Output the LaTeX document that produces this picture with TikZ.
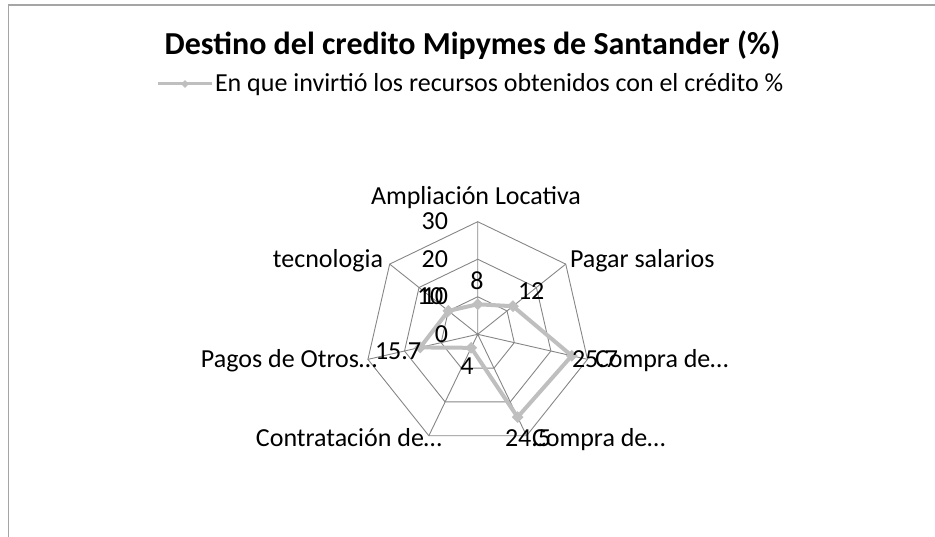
\documentclass[tikz,border=0pt]{standalone}
\usepackage{fontspec}
\setmainfont{Carlito}
\usepackage{tikz}
\usetikzlibrary{shapes.geometric,positioning}
\definecolor{gridgray}{RGB}{134,134,134}
\definecolor{seriesgray}{RGB}{191,191,191}
\definecolor{framegray}{RGB}{165,165,165}

\begin{document}
\begin{tikzpicture}[x=1pt,y=1pt,
    lbl/.style={font=\fontsize{26}{30}\selectfont, inner sep=0, outer sep=0},
    ring/.style={draw=gridgray, line width=0.9pt, regular polygon,
        regular polygon sides=7, inner sep=0, outer sep=0},
    axisline/.style={draw=gridgray, line width=0.9pt},
    pointmark/.style={diamond, fill=seriesgray, inner sep=0, minimum size=12pt},
    series/.style={draw=seriesgray, line width=4pt, line join=round}]

\useasboundingbox (0,0) rectangle (935,536);

% Chart frame
\draw[framegray, line width=1.5pt] (8.5,-5) -- (8.5,531) -- (940,531);

% Title
\node[font=\bfseries\fontsize{32}{36}\selectfont,
    anchor=base,
    inner sep=0
] (title) at (472.5,481) {Destino del credito Mipymes de Santander (\%)};

% Legend
\node[lbl,
    anchor=base west
] (legtext) at (215,444) {En que invirtió los recursos obtenidos con el crédito \%};
\coordinate (legstart) at (158,452);
\draw[series, line width=3pt] (legstart) -- ([xshift=-3pt]legtext.west |- legstart)
    node[midway, pointmark, minimum size=9pt]{};

% Grid rings
\coordinate (c) at (477.7,201.7);
\node[ring, minimum size=75.07pt] (r10) at (c) {};
\node[ring, minimum size=150.13pt] (r20) at (c) {};
\node[ring, minimum size=225.2pt] (r30) at (c) {};

% Spokes
\draw[axisline]
    (c) -- (r30.corner 1)
    (c) -- (r30.corner 2)
    (c) -- (r30.corner 3)
    (c) -- (r30.corner 4)
    (c) -- (r30.corner 5)
    (c) -- (r30.corner 6)
    (c) -- (r30.corner 7);

% Data points
\node[pointmark] (pAmp) at ([shift={(90:30.03)}]c) {};
\node[pointmark] (pPag) at ([shift={(38.571:45.04)}]c) {};
\node[pointmark] (pComA) at ([shift={(-12.857:96.46)}]c) {};
\node[pointmark] (pComB) at ([shift={(-64.286:91.96)}]c) {};
\node[pointmark] (pCon) at ([shift={(-115.714:15.01)}]c) {};
\node[pointmark] (pOtr) at ([shift={(-167.143:58.93)}]c) {};
\node[pointmark] (pTec) at ([shift={(141.429:37.53)}]c) {};

% Series line
\draw[series] (pAmp.center) -- (pPag.center) -- (pComA.center) -- (pComB.center)
    -- (pCon.center) -- (pOtr.center) -- (pTec.center) -- cycle;

% Category labels
\node[lbl, anchor=base] (cAmp) at (476,331) {Ampliación Locativa};
\node[lbl, anchor=base west] (cPag) at (570,268) {Pagar salarios};
\node[lbl, anchor=base west] (cComA) at (595,168) {Compra de…};
\node[lbl, anchor=base west] (cComB) at (532,89) {Compra de…};
\node[lbl, anchor=base east] (cCon) at (442,89) {Contratación de…};
\node[lbl, anchor=base east] (cOtr) at (377,168) {Pagos de Otros…};
\node[lbl, anchor=base east] (cTec) at (383,268) {tecnologia};

% Axis values
\node[lbl, anchor=base east] (t30) at (448,306) {30};
\node[lbl, anchor=base east] (t20) at (448,268) {20};
\node[lbl, anchor=base east] (t10) at (448,231) {10};
\node[lbl, anchor=base east] (t0) at (448,193) {0};

% Data labels
\node[lbl, anchor=base] (vAmp) at (477,246) {8};
\node[lbl, anchor=base west] (vPag) at (518,236) {12};
\node[lbl, anchor=base west] (vComA) at (572,168) {25.7};
\node[lbl, anchor=base west] (vComB) at (505,89) {24.5};
\node[lbl, anchor=base] (vCon) at (467,161) {4};
\node[lbl, anchor=base west] (vOtr) at (375,176) {15.7};
\node[lbl, anchor=base west] (vTec) at (417,231) {10};

\end{tikzpicture}
\end{document}
